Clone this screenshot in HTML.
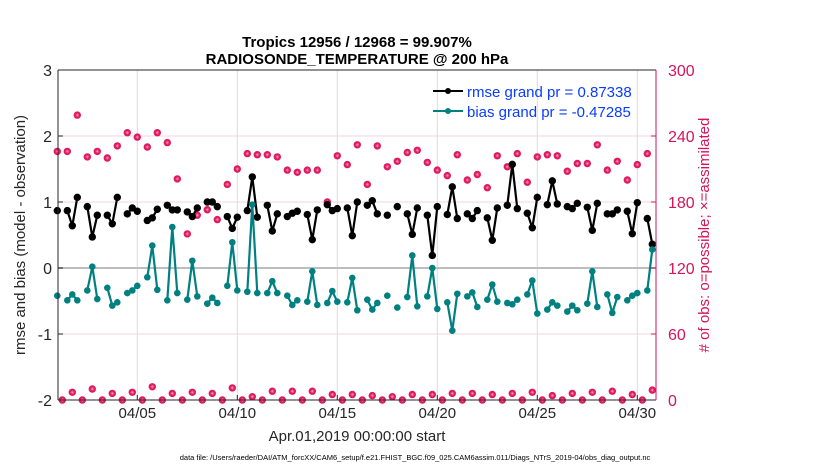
<!DOCTYPE html>
<html><head><meta charset="utf-8">
<style>
body{margin:0;background:#fff;}
svg{display:block;font-family:"Liberation Sans",Arial,sans-serif;}
</style></head>
<body>
<svg id="chart" width="830" height="470" viewBox="0 0 830 470" xmlns="http://www.w3.org/2000/svg">
<rect width="830" height="470" fill="#fff"/>
<g id="grid"></g>
<g id="series"></g>
<g id="axes"></g>
<text x="357" y="47" text-anchor="middle" font-size="15" font-weight="bold" fill="#000">Tropics 12956 / 12968 = 99.907%</text>
<text x="357" y="64" text-anchor="middle" font-size="15" font-weight="bold" fill="#000">RADIOSONDE_TEMPERATURE @ 200 hPa</text>
<text x="357" y="441" text-anchor="middle" font-size="15" fill="#262626">Apr.01,2019 00:00:00 start</text>
<text x="415" y="460" text-anchor="middle" font-size="7.5" fill="#000">data file: /Users/raeder/DAI/ATM_forcXX/CAM6_setup/f.e21.FHIST_BGC.f09_025.CAM6assim.011/Diags_NTrS_2019-04/obs_diag_output.nc</text>
<text transform="translate(25,235) rotate(-90)" text-anchor="middle" font-size="15" fill="#262626">rmse and bias (model - observation)</text>
<text transform="translate(709,235) rotate(-90)" text-anchor="middle" font-size="15" fill="#d6145a"># of obs: o=possible; ×=assimilated</text>
<g>
  <line x1="433" y1="91" x2="463" y2="91" stroke="#000" stroke-width="2"/>
  <circle cx="448" cy="91" r="3" fill="#000"/>
  <text x="467" y="97" font-size="15" fill="#0a3cff">rmse grand pr = 0.87338</text>
  <line x1="433" y1="111" x2="463" y2="111" stroke="#008080" stroke-width="2"/>
  <circle cx="448" cy="111" r="3" fill="#008080"/>
  <text x="467" y="117" font-size="15" fill="#0a3cff">bias grand pr = -0.47285</text>
</g>
</svg>
<script>
const N=null;
const rmse=[0.87,N,0.87,0.64,1.07,N,0.93,0.47,0.80,N,0.80,0.67,1.07,N,0.82,0.91,0.86,N,0.72,0.76,0.89,N,0.95,0.88,0.88,N,0.85,0.78,0.91,N,1.00,1.00,0.93,N,0.78,0.60,0.77,N,0.87,1.38,0.77,N,0.95,0.56,0.82,N,0.78,0.83,0.86,N,0.81,0.43,0.88,N,0.96,0.87,0.90,N,0.91,0.49,1.00,N,0.95,1.02,0.82,N,0.80,N,0.93,N,0.82,0.51,0.91,N,0.80,0.19,0.93,N,0.81,1.23,0.75,N,0.82,0.75,0.87,N,0.76,0.42,0.91,N,0.95,1.57,0.90,N,0.83,0.61,1.07,N,0.96,1.32,0.97,N,0.93,0.90,0.98,N,0.92,0.57,0.98,N,0.82,0.82,0.88,N,0.86,0.52,0.99,N,0.75,0.36];
const bias=[-0.42,N,-0.49,-0.40,-0.49,N,-0.34,0.02,-0.47,N,-0.30,-0.57,-0.52,N,-0.38,-0.34,-0.27,N,-0.14,0.34,-0.33,N,-0.49,0.62,-0.38,N,-0.48,0.11,-0.43,N,-0.54,-0.45,-0.53,N,-0.27,0.39,-0.34,N,-0.36,0.96,-0.38,N,-0.38,-0.20,-0.38,N,-0.42,-0.56,-0.49,N,-0.51,-0.05,-0.56,N,-0.53,-0.35,-0.51,N,-0.52,-0.15,-0.64,N,-0.48,-0.63,-0.53,N,-0.42,N,-0.60,N,-0.44,0.19,-0.58,N,-0.43,0.00,-0.62,N,-0.52,-0.95,-0.39,N,-0.43,-0.37,-0.59,N,-0.48,-0.25,-0.51,N,-0.53,-0.55,-0.48,N,-0.40,-0.19,-0.69,N,-0.63,-0.52,-0.57,N,-0.66,-0.57,-0.64,N,-0.54,-0.05,-0.59,N,-0.40,-0.68,-0.44,N,-0.49,-0.42,-0.38,N,-0.34,0.28];
const obsCount=[226,0,226,7,259,0,221,10,226,0,220,6,231,0,243,7,239,0,230,12,243,0,234,6,201,0,151,7,168,0,173,6,164,0,196,11,210,0,224,3,223,0,223,8,221,0,209,8,207,0,209,8,209,0,180,5,222,0,214,5,232,0,196,4,231,0,212,3,217,0,225,5,227,0,216,5,209,0,204,6,223,0,200,6,205,0,193,5,222,0,212,6,224,0,198,7,221,0,223,4,222,0,208,6,215,0,215,7,232,0,209,8,217,0,200,5,214,0,224,9];
const xTickDays=[4,9,14,19,24,29];
const xTickLabels=["04/05","04/10","04/15","04/20","04/25","04/30"];
const yLeftTicks=[-2,-1,0,1,2,3];
const yRightTicks=[0,60,120,180,240,300];
const stepDays=0.25;

const L=58,R=656,T=70,B=400;
const x=t=>57.3+20*t;
const yL=v=>B-(v+2)*(B-T)/5;
const yR=v=>B-v*(B-T)/300;
const NS="http://www.w3.org/2000/svg";
function mk(tag,attrs,parent){const e=document.createElementNS(NS,tag);for(const k in attrs)e.setAttribute(k,attrs[k]);parent.appendChild(e);return e;}
const grid=document.getElementById('grid'),ser=document.getElementById('series'),ax=document.getElementById('axes');

xTickDays.forEach((d,i)=>{
  const l=mk('line',{x1:x(d),x2:x(d),y1:T,y2:B,stroke:'#dcdcdc','stroke-width':1},grid);
  
  
  const tk=mk('line',{x1:x(d),x2:x(d),y1:B,y2:B-5,stroke:'#262626','stroke-width':1},ax);
  
  
  const tx=mk('text',{x:x(d),y:418,'text-anchor':'middle','font-size':15,fill:'#262626'},ax);
  tx.textContent=xTickLabels[i];
  
  
});
yRightTicks.forEach(v=>{
  if(v>0&&v<300){
    const l=mk('line',{x1:L,x2:R,y1:yR(v),y2:yR(v),stroke:'#f2d4de','stroke-width':1},grid);
    
    
  }
  const tk=mk('line',{x1:R-5,x2:R,y1:yR(v),y2:yR(v),stroke:'#d6145a','stroke-width':1},ax);
  
  
  const tx=mk('text',{x:668,y:yR(v)+6,'font-size':16,fill:'#d6145a'},ax);
  tx.textContent=v;
  
  
});
yLeftTicks.forEach(v=>{
  const tk=mk('line',{x1:L,x2:L+5,y1:yL(v),y2:yL(v),stroke:'#262626','stroke-width':1},ax);
  
  
  const tx=mk('text',{x:52,y:yL(v)+6,'text-anchor':'end','font-size':16,fill:'#262626'},ax);
  tx.textContent=v;
  
  
});
const zl=mk('line',{x1:L,x2:R,y1:yL(0),y2:yL(0),stroke:'#bdbdbd','stroke-width':2},grid);


const al=mk('line',{x1:L,x2:L,y1:T,y2:B,stroke:'#262626','stroke-width':1},ax);


const ab=mk('line',{x1:L,x2:R,y1:B,y2:B,stroke:'#262626','stroke-width':1},ax);


const at=mk('line',{x1:L,x2:R,y1:T,y2:T,stroke:'#262626','stroke-width':1},ax);


const ar=mk('line',{x1:R,x2:R,y1:T,y2:B,stroke:'#d6145a','stroke-width':1},ax);



// obs counts
obsCount.forEach((c,k)=>{
  const cx=x(k*stepDays),cy=yR(c);
  const g=mk('g',{},ser);
  
  
  mk('circle',{cx:cx,cy:cy,r:3.7,fill:'#e0195e'},g);
  mk('path',{d:`M${cx-1.8},${cy}H${cx+1.8}M${cx},${cy-1.8}V${cy+1.8}M${cx-1.3},${cy-1.3}L${cx+1.3},${cy+1.3}M${cx-1.3},${cy+1.3}L${cx+1.3},${cy-1.3}`,stroke:'#f7b0c8','stroke-width':0.4},g);
});

function drawSeries(vals,color,name,r){
  let d='',pen=false;
  vals.forEach((v,k)=>{
    if(v===null){pen=false;return;}
    d+=(pen?'L':'M')+x(k*stepDays).toFixed(1)+','+yL(v).toFixed(1);
    pen=true;
  });
  const p=mk('path',{d:d,fill:'none',stroke:color,'stroke-width':2.2,'stroke-linejoin':'round'},ser);
  
  
  vals.forEach((v,k)=>{
    if(v===null)return;
    const c=mk('circle',{cx:x(k*stepDays),cy:yL(v),r:r,fill:color},ser);
    
    
  });
}
drawSeries(rmse,'#000','rmse',3.7);
drawSeries(bias,'#008080','bias',3.3);
</script>
</body></html>
